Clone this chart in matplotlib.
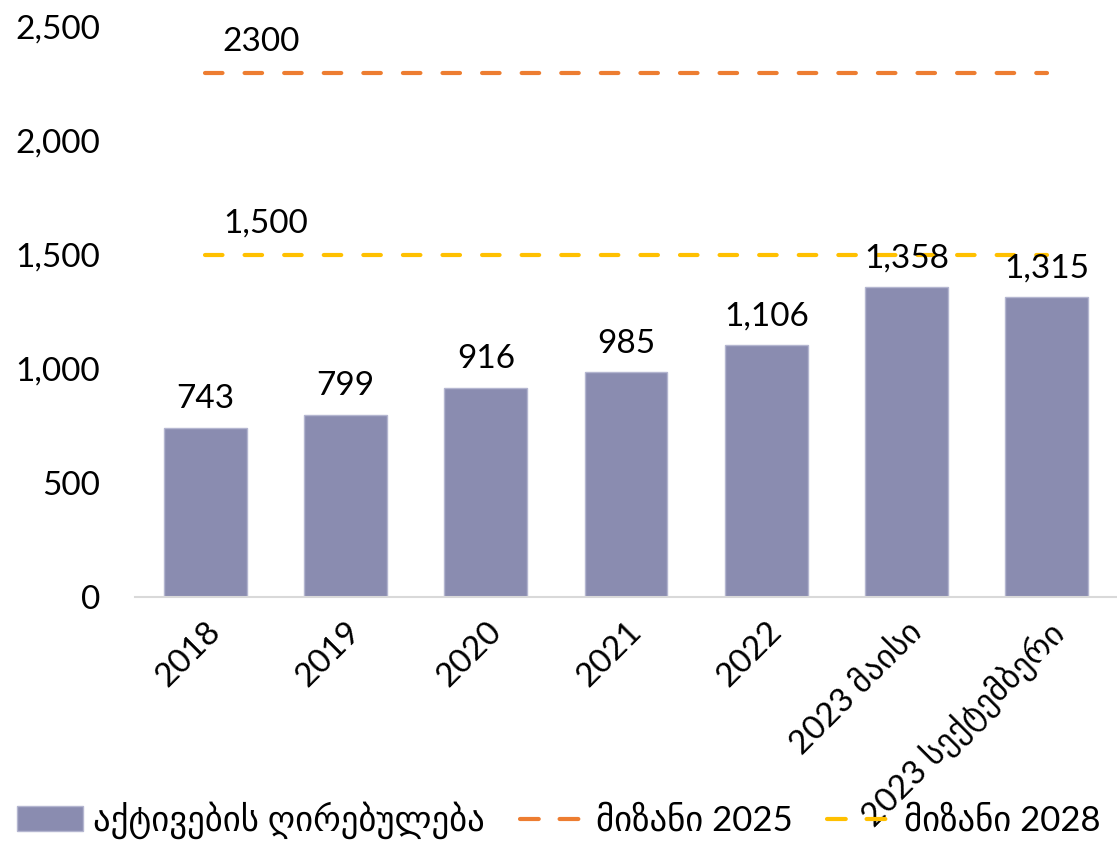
import numpy as np
import matplotlib.pyplot as plt
from matplotlib.lines import Line2D
from matplotlib.patches import Patch

plt.rcParams['font.family'] = ['Lato', 'DejaVu Sans']

categories = ['2018', '2019', '2020', '2021', '2022', '2023 მაისი', '2023 სექტემბერი']
asset_values = [743, 799, 916, 985, 1106, 1358, 1315]
target_2025 = 2300
target_2028 = 1500
target_2025_label = '2300'
target_2028_label = '1,500'
legend_labels = ['აქტივების ღირებულება', 'მიზანი 2025', 'მიზანი 2028']

bar_color = '#8A8CB0'
orange = '#ED7D31'
yellow = '#FFC000'
fs = 24

fig = plt.figure(figsize=(11.17, 8.42), dpi=100)
ax = fig.add_axes([0.121, 0.291, 0.879, 0.677])

x = np.arange(len(categories))
ax.bar(x, asset_values, width=0.59, color=bar_color, edgecolor='#B4B6D0', linewidth=1)

for xi, v in zip(x, asset_values):
    ax.text(xi, v + 60, f'{v:,}', ha='center', va='bottom', fontsize=fs)

ax.plot([x[0], x[-1]], [target_2025, target_2025], color=orange, lw=3,
        dashes=(4.2, 5.3), dash_capstyle='round')
ax.plot([x[0], x[-1]], [target_2028, target_2028], color=yellow, lw=3,
        dashes=(4.2, 5.3), dash_capstyle='round')
ax.text(x[0] + 0.12, target_2025 + 70, target_2025_label, ha='left', va='bottom', fontsize=fs)
ax.text(x[0] + 0.13, target_2028 + 70, target_2028_label, ha='left', va='bottom', fontsize=fs)

ax.set_xlim(-0.5, len(categories) - 0.5)
ax.set_ylim(0, 2500)
ax.set_yticks(np.arange(0, 2501, 500))
ax.set_yticklabels([f'{t:,}' for t in range(0, 2501, 500)], fontsize=fs)
ax.set_xticks(x)
ax.set_xticklabels(categories, rotation=45, ha='right', rotation_mode='anchor', fontsize=fs)
ax.tick_params(axis='both', length=0)
ax.tick_params(axis='x', pad=14)
ax.tick_params(axis='y', pad=25)
for s in ['top', 'right', 'left']:
    ax.spines[s].set_visible(False)
ax.spines['bottom'].set_color('#D9D9D9')
ax.spines['bottom'].set_linewidth(1.5)

handles = [Patch(facecolor=bar_color, edgecolor='#B4B6D0'),
           Line2D([0], [0], color=orange, lw=3, dashes=(4.5, 5), dash_capstyle='round'),
           Line2D([0], [0], color=yellow, lw=3, dashes=(4.5, 5), dash_capstyle='round')]
fig.legend(handles, legend_labels, loc='center', bbox_to_anchor=(0.5, 0.026), ncol=3,
           frameon=False, fontsize=25, handlelength=1.9, handletextpad=0.3,
           columnspacing=1.0, borderpad=0, borderaxespad=0)

fig.savefig('out.png', dpi=100)
